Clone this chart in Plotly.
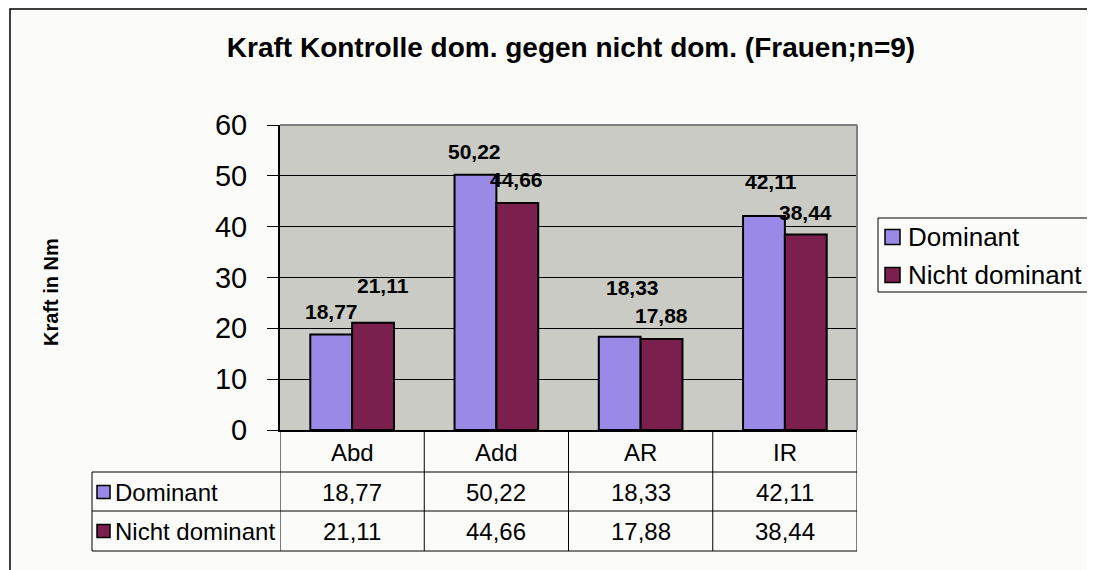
import plotly.graph_objects as go

kategorien = ["Abd", "Add", "AR", "IR"]
dominant = [18.77, 50.22, 18.33, 42.11]
nicht_dominant = [21.11, 44.66, 17.88, 38.44]
serien = ["Dominant", "Nicht dominant"]
farben = ["#9B89E8", "#7B1F4E"]

OFF = 8  # Seitenrand des Browsers
W, H = 1095 - OFF, 570 - OFF
L, R, T, B = 280, 857, 125, 430  # Plotbereich in Pixeln (Bildkoordinaten)
FONT = "Arial, Liberation Sans"


def px(x):
    return (x - L) / (R - L)


def py(y):
    return (B - y) / (B - T)


def komma(v):
    return f"{v:.2f}".replace(".", ",")


bargap = 0.42
fig = go.Figure()
for name, werte, farbe in zip(serien, [dominant, nicht_dominant], farben):
    fig.add_trace(go.Bar(
        x=list(range(len(kategorien))), y=werte, name=name,
        marker=dict(color=farbe, line=dict(color="black", width=2)),
    ))

# Datenbeschriftungen (in Excel von Hand verschoben)
verschiebung = [
    [(0, 23), (-1, 23), (13, 49), (7, 34)],
    [(10, 37), (-1, 23), (0, 24), (0, 22)],
]
bw = (1 - bargap) / 2
annos = []
for s, werte in enumerate([dominant, nicht_dominant]):
    for i, v in enumerate(werte):
        dx, dy = verschiebung[s][i]
        annos.append(dict(
            x=i + (s - 0.5) * bw, y=v, xref="x", yref="y", text=komma(v),
            showarrow=False, xshift=dx, yshift=dy, xanchor="center", yanchor="middle",
            font=dict(family=FONT, size=21, color="black", weight="bold"),
        ))

# Datentabelle
tfont = dict(family=FONT, size=24, color="black")
zeilen_y = [452, 492, 531]
tab_links = 92
for i, k in enumerate(kategorien):
    for zeile, txt in zip(zeilen_y, [k, komma(dominant[i]), komma(nicht_dominant[i])]):
        annos.append(dict(x=i, y=py(zeile), xref="x", yref="paper", text=txt,
                          xanchor="center", yanchor="middle", showarrow=False, font=tfont))

shapes = []
linie = dict(color="black", width=1)
for xb in [-0.5, 0.5, 1.5, 2.5, 3.5]:
    shapes.append(dict(type="line", xref="x", yref="paper", x0=xb, x1=xb,
                       y0=py(430), y1=py(551), line=linie))
for yb in [472, 511, 551]:
    shapes.append(dict(type="line", xref="paper", yref="paper", x0=px(tab_links), x1=1,
                       y0=py(yb), y1=py(yb), line=linie))
shapes.append(dict(type="line", xref="paper", yref="paper", x0=px(tab_links), x1=px(tab_links),
                   y0=py(472), y1=py(551), line=linie))

for s, name in enumerate(serien):
    yc = zeilen_y[s + 1]
    shapes.append(dict(type="rect", xref="paper", yref="paper",
                       x0=px(tab_links + 5), x1=px(tab_links + 18), y0=py(yc + 6.5), y1=py(yc - 6.5),
                       fillcolor=farben[s], line=dict(color="black", width=1.5)))
    annos.append(dict(x=px(tab_links + 21), y=py(yc), xref="paper", yref="paper", text=name,
                      xanchor="left", yanchor="middle", showarrow=False, font=tfont))

# Legende (wie in Excel, rechts angeschnitten)
shapes.append(dict(type="rect", xref="paper", yref="paper",
                   x0=px(878), x1=px(1120), y0=py(292), y1=py(218),
                   fillcolor="#FBFBF9", line=dict(color="black", width=1)))
for s, name in enumerate(serien):
    yc = 237 + 38 * s
    shapes.append(dict(type="rect", xref="paper", yref="paper",
                       x0=px(885), x1=px(900), y0=py(yc + 7.5), y1=py(yc - 7.5),
                       fillcolor=farben[s], line=dict(color="black", width=1.5)))
    annos.append(dict(x=px(906), y=py(yc), xref="paper", yref="paper", text=name,
                      xanchor="left", yanchor="middle", showarrow=False,
                      font=dict(family=FONT, size=26, color="black")))

# Rahmen des Plotbereichs (oben/rechts grau)
shapes.append(dict(type="line", xref="paper", yref="paper", x0=0, x1=1, y0=1, y1=1,
                   line=dict(color="#808080", width=2)))
shapes.append(dict(type="line", xref="paper", yref="paper", x0=1, x1=1, y0=0, y1=1,
                   line=dict(color="#808080", width=2)))
# Diagrammrahmen
shapes.append(dict(type="rect", xref="paper", yref="paper",
                   x0=px(10), x1=px(1120), y0=py(600), y1=py(9),
                   line=dict(color="black", width=1.5), layer="below"))

annos.append(dict(x=px(51), y=py(292), xref="paper", yref="paper", text="Kraft in Nm",
                  textangle=-90, showarrow=False, xanchor="center", yanchor="middle",
                  font=dict(family=FONT, size=20, color="black", weight="bold")))

fig.update_layout(
    width=W, height=H,
    margin=dict(l=L - OFF, r=W - (R - OFF), t=T - OFF, b=H - (B - OFF), autoexpand=False),
    paper_bgcolor="#FBFBF9", plot_bgcolor="#C9CBC4",
    barmode="group", bargap=bargap, bargroupgap=0,
    title=dict(text="<b>Kraft Kontrolle dom. gegen nicht dom. (Frauen;n=9)</b>",
               xref="paper", x=px(571), y=1 - (47 - OFF) / H, xanchor="center", yanchor="middle",
               font=dict(family=FONT, size=28, color="black")),
    showlegend=False,
    xaxis=dict(range=[-0.5, 3.5], showticklabels=False, ticks="", showgrid=False,
               showline=True, linecolor="black", linewidth=2, zeroline=False),
    yaxis=dict(range=[0, 60], dtick=10, showgrid=True, gridcolor="black", gridwidth=1,
               ticks="outside", ticklen=11, tickcolor="black", tickwidth=1,
               showline=True, linecolor="black", linewidth=2, zeroline=False,
               ticklabelstandoff=14,
               tickfont=dict(family=FONT, size=29, color="black")),
    annotations=annos, shapes=shapes,
)

fig.write_html("out.html")
